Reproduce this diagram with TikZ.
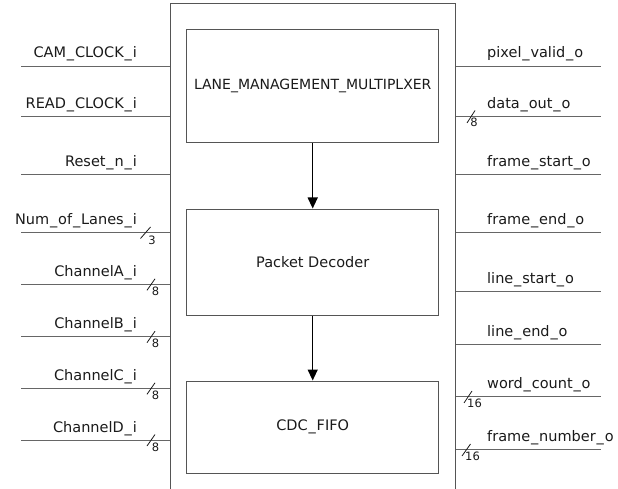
\documentclass[tikz,border=0pt]{standalone}
\usepackage{fontspec}
\setmainfont{DejaVu Sans}
\usetikzlibrary{arrows.meta}
\definecolor{wirecol}{HTML}{666666}
\definecolor{boxcol}{HTML}{555555}
\definecolor{txtcol}{HTML}{1A1A1A}
% slightly wider underscore for port names
\newcommand\us{\kern0.06em\_\kern0.06em}
\tikzset{
  wire/.style={draw=wirecol, line width=0.9pt},
  chipbox/.style={draw=boxcol, line width=1pt, rectangle, inner sep=0pt, minimum width=285pt, minimum height=496pt},
  subblock/.style={draw=boxcol, line width=1pt, rectangle, inner sep=0pt, minimum width=252pt, text=txtcol, font=\fontsize{14.5}{16}\selectfont},
  flow/.style={draw=black, line width=1.3pt, -{Triangle[width=10pt,length=11pt]}},
  inlbl/.style={anchor=base east, inner sep=0pt, text=txtcol, font=\fontsize{14.5}{16}\selectfont},
  outlbl/.style={anchor=base west, inner sep=0pt, text=txtcol, font=\fontsize{14.5}{16}\selectfont},
  buswidth/.style={inner sep=0pt, text=txtcol, font=\fontsize{11.5}{12}\selectfont},
  busmark/.style={draw=txtcol, line width=0.8pt}
}
\begin{document}
\begin{tikzpicture}[x=1pt, y=-1pt]
  \useasboundingbox (0,0) rectangle (618,489);
  \clip (0,0) rectangle (618,489);

  % top-level module outline (runs off the lower edge)
  \node[chipbox] (chip) at (312.5,252) {};

  % internal blocks
  \node[subblock, minimum height=113pt, font=\fontsize{14}{16}\selectfont] (lmm) at (312.7,86.2) {LANE\_MANAGEMENT\_MULTIPLXER};
  \node[subblock, minimum height=106pt] (pd) at (312.7,262) {Packet Decoder};
  \node[subblock, minimum height=92pt] (fifo) at (312.7,427) {CDC\us FIFO};

  \draw[flow] (lmm.south) -- (pd.north);
  \draw[flow] (pd.south) -- (fifo.north);

  % input ports
  \foreach \nm/\yy/\txt in {cam/66/CAM\us CLOCK\us i, rdc/116.7/READ\us CLOCK\us i, rst/174.3/Reset\us n\us i,
      nol/232.7/Num\us of\us Lanes\us i, cha/284.3/ChannelA\us i, chb/336.7/ChannelB\us i,
      chc/388.3/ChannelC\us i, chd/440/ChannelD\us i}{
    \coordinate (\nm) at (21,\yy);
    \draw[wire] (\nm) -- (\nm -| chip.west);
    \node[inlbl] (\nm-lbl) at (137,\yy-8) {\txt};
  }

  % output ports
  \foreach \nm/\yy/\txt in {pv/66/pixel\us valid\us o, dout/116.7/data\us out\us o, fs/174.3/frame\us start\us o,
      fe/232.7/frame\us end\us o, ls/291/line\us start\us o, le/344/line\us end\us o,
      wc/396/word\us count\us o, fn/449.3/frame\us number\us o}{
    \coordinate (\nm) at (600.7,\yy);
    \draw[wire] (chip.east |- \nm) -- (\nm);
    \node[outlbl] (\nm-lbl) at (487,\yy-8) {\txt};
  }

  % bus-width marks on inputs
  \draw[busmark] (140.5,238.5) -- (150.5,227);
  \node[buswidth] (nol-w) at (152,240.5) {3};
  \foreach \nm/\yy in {cha/284.3, chb/336.7, chc/388.3, chd/440}{
    \draw[busmark] (147,\yy+6) -- (155,\yy-5.5);
    \node[buswidth] (\nm-w) at (155.5,\yy+7) {8};
  }

  % bus-width marks on outputs
  \draw[busmark] (467,123) -- (475,110.5);
  \node[buswidth] (dout-w) at (474,122.6) {8};
  \draw[busmark] (464,403) -- (472,391);
  \node[buswidth] (wc-w) at (474.5,403.5) {16};
  \draw[busmark] (462,456) -- (470.5,444);
  \node[buswidth] (fn-w) at (472.5,456) {16};
\end{tikzpicture}
\end{document}
